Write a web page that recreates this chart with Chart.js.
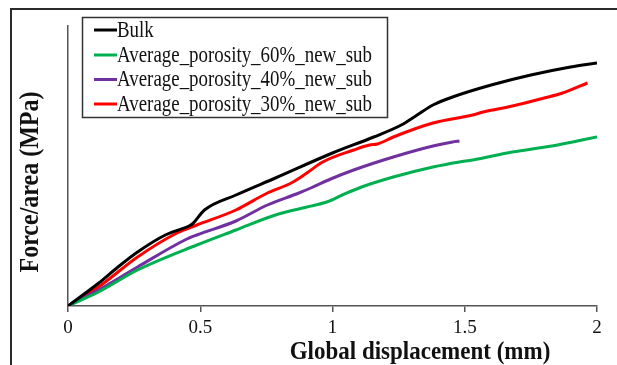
<!DOCTYPE html>
<html>
<head>
<meta charset="utf-8">
<script src="https://cdn.jsdelivr.net/npm/chart.js@4"></script>
<style>
  html,body{margin:0;padding:0;background:#fff;}
  #wrap{width:617px;height:365px;position:relative;}
</style>
</head>
<body>
<div id="wrap"><canvas id="c" width="617" height="365"></canvas></div>
<script>
const seriesNames = ["Bulk", "Average_porosity_60%_new_sub", "Average_porosity_40%_new_sub", "Average_porosity_30%_new_sub"];
const seriesColors = ["#000000", "#00B050", "#7030A0", "#FF0000"];
const xTickLabels = ["0", "0.5", "1", "1.5", "2"];
const xTitle = "Global displacement (mm)";
const yTitle = "Force/area (MPa)";

const bulkX = [0, 0.115, 0.189, 0.263, 0.368, 0.457, 0.47, 0.516, 0.635, 0.784, 1.0, 1.156, 1.26, 1.32, 1.38, 1.454, 1.60, 1.75, 1.90, 2.0];
const bulkY = [0, 22.7, 39, 54, 71, 80, 82, 96, 111, 128, 153, 169, 181, 191, 201, 209, 221, 231, 239, 243];

const p60X = [0, 0.115, 0.263, 0.487, 0.635, 0.784, 0.903, 0.978, 1.037, 1.11, 1.23, 1.38, 1.48, 1.53, 1.68, 1.83, 2.0];
const p60Y = [0, 14, 36, 61, 76, 91, 99, 104, 111, 119, 129, 139, 144, 146, 154, 160, 169];

const p40X = [0, 0.115, 0.263, 0.442, 0.487, 0.635, 0.754, 0.873, 0.918, 0.993, 1.08, 1.23, 1.38, 1.454, 1.48];
const p40Y = [0, 16, 39, 66, 71, 85, 101, 113, 118, 127, 136, 149, 160, 164, 165];

const p30X = [0, 0.115, 0.263, 0.412, 0.487, 0.635, 0.754, 0.844, 0.903, 0.963, 1.08, 1.14, 1.17, 1.23, 1.38, 1.53, 1.57, 1.68, 1.80, 1.87, 1.964];
const p30Y = [0, 19, 49, 73, 81, 96, 113, 123, 133, 144, 156, 161, 162, 169, 183, 191, 194, 200, 208, 213, 223];

const seriesX = [bulkX, p60X, p40X, p30X];
const seriesY = [bulkY, p60Y, p40Y, p30Y];

const datasets = seriesNames.map((name, i) => ({
  label: name,
  data: seriesX[i].map((x, j) => ({x: x, y: seriesY[i][j]})),
  borderColor: seriesColors[i],
  backgroundColor: seriesColors[i],
  borderWidth: 3,
  pointRadius: 0,
  showLine: true,
  fill: false,
  cubicInterpolationMode: 'monotone'
}));

const SERIF = "'Liberation Serif','Times New Roman',serif";

const decor = {
  id: 'decor',
  beforeDraw(chart) {
    const ctx = chart.ctx;
    ctx.save();
    ctx.fillStyle = '#fff';
    ctx.fillRect(0, 0, chart.width, chart.height);
    ctx.strokeStyle = '#2a2a2a';
    ctx.lineWidth = 2;
    ctx.beginPath();
    ctx.moveTo(617, 9);
    ctx.lineTo(11, 9);
    ctx.lineTo(11, 365);
    ctx.stroke();
    ctx.restore();
  },
  afterDraw(chart) {
    const ctx = chart.ctx;
    ctx.save();
    // legend box
    ctx.strokeStyle = '#333';
    ctx.lineWidth = 1.5;
    ctx.strokeRect(82.5, 17.5, 305, 100);
    const rows = [30, 55, 79.5, 104];
    ctx.textBaseline = 'middle';
    ctx.textAlign = 'left';
    chart.data.datasets.forEach((ds, i) => {
      ctx.strokeStyle = ds.borderColor;
      ctx.lineWidth = 3;
      ctx.beginPath();
      ctx.moveTo(94, rows[i]);
      ctx.lineTo(117, rows[i]);
      ctx.stroke();
      ctx.save();
      ctx.translate(117, rows[i] + 1);
      ctx.scale(0.97, 1.15);
      ctx.font = "19.5px " + SERIF;
      ctx.fillStyle = '#111';
      ctx.fillText(ds.label, 0, 0);
      ctx.restore();
    });
    // x title
    ctx.save();
    ctx.translate(420, 352);
    ctx.scale(1, 1.1);
    ctx.font = "bold 23px " + SERIF;
    ctx.textAlign = 'center';
    ctx.textBaseline = 'middle';
    ctx.fillStyle = '#111';
    ctx.fillText(xTitle, 0, 0);
    ctx.restore();
    // y title
    ctx.save();
    ctx.translate(31, 182);
    ctx.rotate(-Math.PI / 2);
    ctx.scale(1, 1.1);
    ctx.font = "bold 24px " + SERIF;
    ctx.textAlign = 'center';
    ctx.textBaseline = 'middle';
    ctx.fillStyle = '#111';
    ctx.fillText(yTitle, 0, 0);
    ctx.restore();
    ctx.restore();
  }
};

new Chart(document.getElementById('c'), {
  type: 'scatter',
  data: { datasets: datasets },
  options: {
    responsive: false,
    animation: false,
    layout: { padding: { top: 26, right: 20, left: 0, bottom: 0 } },
    plugins: { legend: { display: false }, tooltip: { enabled: false } },
    scales: {
      x: {
        type: 'linear',
        min: 0, max: 2,
        afterFit(s) { s.height = 59; },
        afterBuildTicks(s) { s.ticks = xTickLabels.map(t => ({value: parseFloat(t)})); },
        ticks: {
          font: { family: SERIF, size: 19 },
          color: '#111',
          padding: 5,
          callback: (v) => xTickLabels.find(t => parseFloat(t) === v)
        },
        grid: { display: true, drawOnChartArea: false, drawTicks: true, tickLength: 6, color: '#555', lineWidth: 1.5 },
        border: { display: true, color: '#555', width: 1.5 }
      },
      y: {
        type: 'linear',
        min: 0, max: 280,
        afterFit(s) { s.width = 68; },
        ticks: { display: false },
        grid: { display: false, drawTicks: false },
        border: { display: true, color: '#555', width: 1.5 }
      }
    }
  },
  plugins: [decor]
});
</script>
</body>
</html>
